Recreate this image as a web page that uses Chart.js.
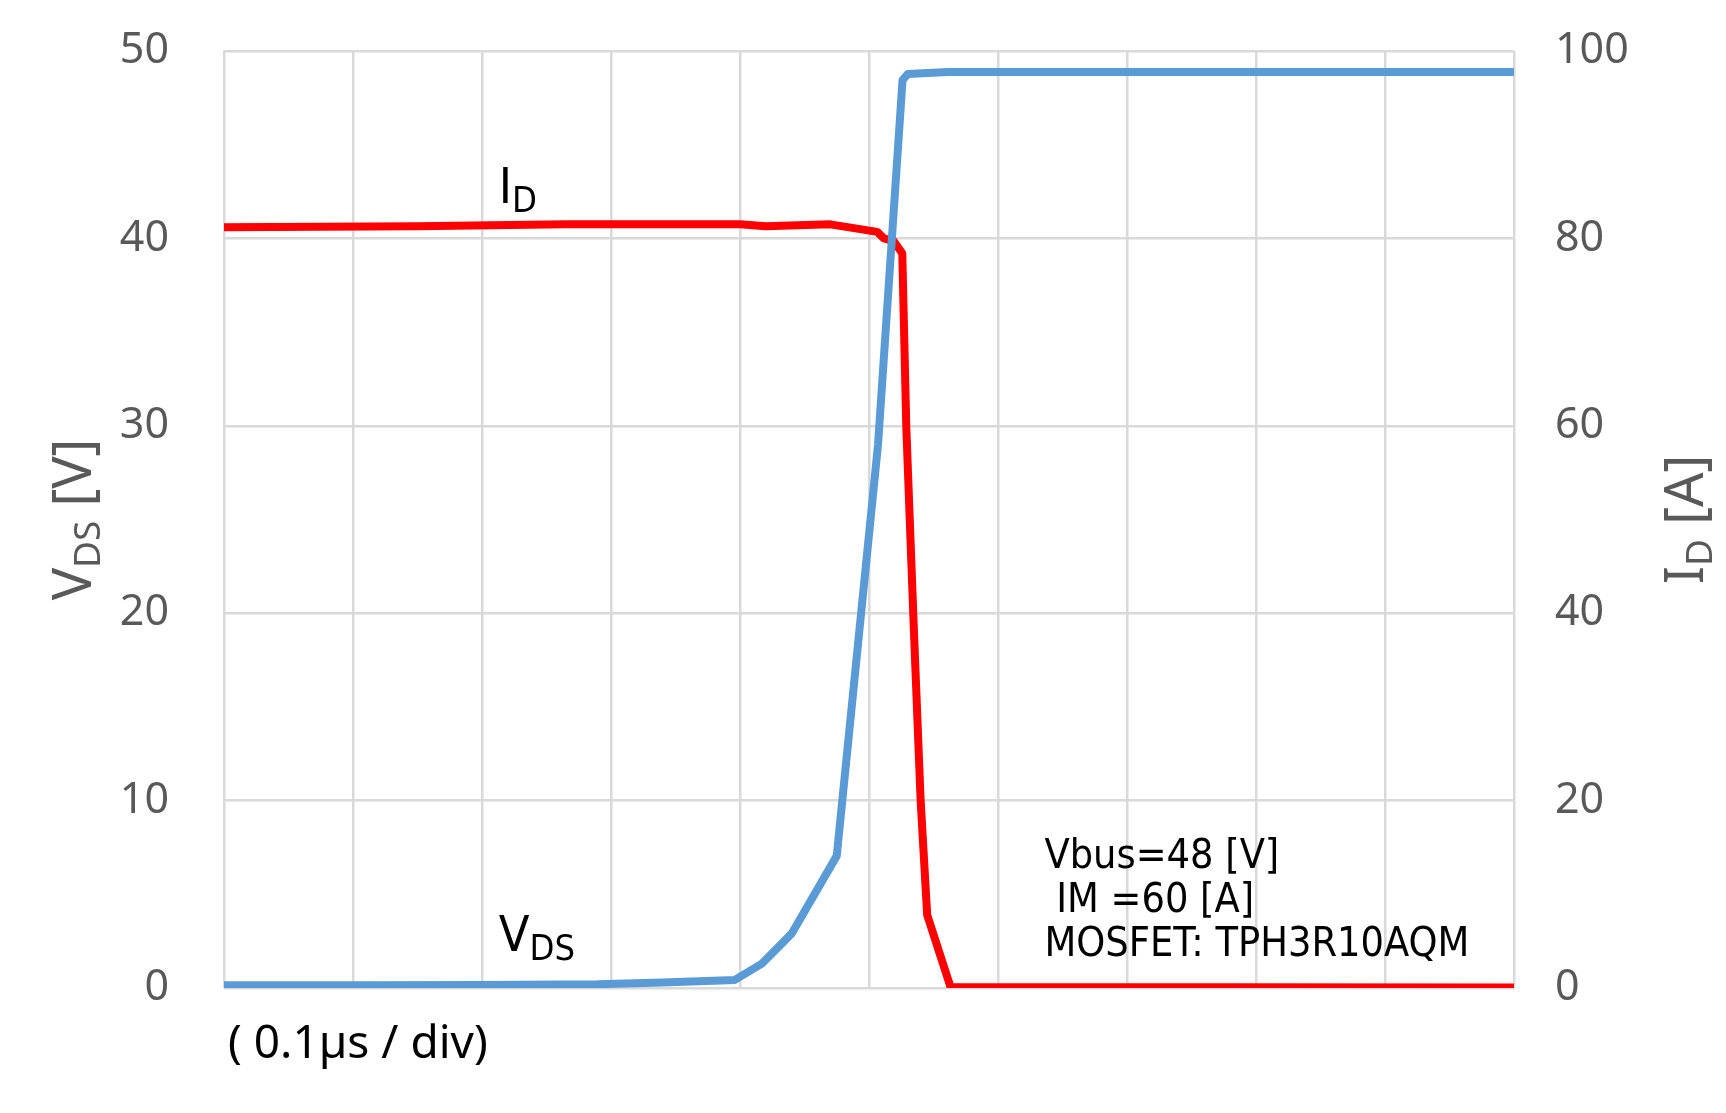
<!DOCTYPE html>
<html>
<head>
<meta charset="utf-8">
<script src="https://cdn.jsdelivr.net/npm/chart.js@4/dist/chart.umd.min.js"></script>
<style>
html,body{margin:0;padding:0;background:#fff;}
#c{display:block;}
</style>
</head>
<body>
<canvas id="c" width="1726" height="1113"></canvas>
<script>
// time in divisions (0.1us / div)
const vdsTime=[0,1,2,2.9,3.4,3.96,4.17,4.40,4.75,5.07,5.26,5.30,5.61,10];
const vdsVolts=[0.15,0.15,0.16,0.2,0.3,0.43,1.3,2.9,7.05,29.0,48.45,48.77,48.88,48.88];
const idTime=[0,1.5,2.65,4.0,4.2,4.7,5.064,5.115,5.192,5.258,5.289,5.348,5.40,5.451,5.632,10];
const idAmps=[81.2,81.3,81.5,81.5,81.3,81.5,80.7,80.0,79.7,78.4,59.9,38.2,20.1,7.8,0.1,0.05];
const leftTicks=[0,10,20,30,40,50];
const rightTicks=[0,20,40,60,80,100];
const infoLines=["Vbus=48 [V]"," IM =60 [A]","MOSFET: TPH3R10AQM"];

const FONT="'Noto Sans'";
const COND="'DejaVu Sans Condensed','DejaVu Sans'";
const GRAY="#595959";

function drawRich(ctx,parts,x,y,color){
  let cx=x;
  ctx.fillStyle=color;
  ctx.textBaseline="alphabetic";
  ctx.textAlign="left";
  parts.forEach(p=>{
    ctx.font=p.size+"px "+(p.family||FONT);
    ctx.fillText(p.t,cx,y+(p.dy||0));
    cx+=ctx.measureText(p.t).width;
  });
}
function richWidth(ctx,parts){
  let w=0;
  parts.forEach(p=>{ctx.font=p.size+"px "+(p.family||FONT);w+=ctx.measureText(p.t).width;});
  return w;
}
function drawRotated(ctx,parts,cx,cy,color){
  ctx.save();
  ctx.translate(cx,cy);
  ctx.rotate(-Math.PI/2);
  const w=richWidth(ctx,parts);
  drawRich(ctx,parts,-w/2,parts[0].size*0.36,color);
  ctx.restore();
}

const labelsPlugin={
  id:"labels",
  afterDraw(chart){
    const ctx=chart.ctx, a=chart.chartArea;
    const xs=chart.scales.x, ys=chart.scales.y;
    // axis titles
    drawRotated(ctx,[{t:"V",size:54},{t:"DS",size:37,dy:9},{t:" [V]",size:54}],a.left-152,(a.top+a.bottom)/2,GRAY);
    drawRotated(ctx,[{t:"I",size:54},{t:"D",size:37,dy:9},{t:" [A]",size:54}],a.right+170,(a.top+a.bottom)/2,GRAY);
    // curve labels
    drawRich(ctx,[{t:"I",size:50,family:COND},{t:"D",size:36,dy:9,family:COND}],xs.getPixelForValue(2.13),ys.getPixelForValue(41.9),"#000");
    drawRich(ctx,[{t:"V",size:50,family:COND},{t:"DS",size:36,dy:9,family:COND}],xs.getPixelForValue(2.13),ys.getPixelForValue(2.0),"#000");
    // conditions
    infoLines.forEach((s,i)=>{
      drawRich(ctx,[{t:s,size:41,family:COND}],xs.getPixelForValue(6.36),ys.getPixelForValue(6.4)+i*44,"#000");
    });
    drawRich(ctx,[{t:"( 0.1µs / div)",size:46}],a.left+4,a.bottom+70,"#000");
  }
};

function fixLeft(s){s.width=224;s.paddingTop=0;s.paddingBottom=0;}
function fixRight(s){s.width=212;s.paddingTop=0;s.paddingBottom=0;}

new Chart(document.getElementById("c"),{
  type:"line",
  data:{datasets:[
    {label:"VDS",data:vdsTime.map((t,i)=>({x:t,y:vdsVolts[i]})),yAxisID:"y",borderColor:"#5B9BD5",borderWidth:8,pointRadius:0,tension:0,borderJoinStyle:"round",order:0},
    {label:"ID",data:idTime.map((t,i)=>({x:t,y:idAmps[i]})),yAxisID:"y1",borderColor:"#FF0000",borderWidth:8,pointRadius:0,tension:0,borderJoinStyle:"round",order:1}
  ]},
  options:{
    responsive:false,
    animation:false,
    layout:{padding:{top:51,left:0,right:0,bottom:0}},
    plugins:{legend:{display:false},tooltip:{enabled:false}},
    scales:{
      x:{type:"linear",min:0,max:10,
        ticks:{display:false,stepSize:1},
        grid:{color:"#D9D9D9",lineWidth:2.5,drawTicks:false},
        border:{display:false},
        afterFit:s=>{s.height=125;s.paddingLeft=0;s.paddingRight=0;}
      },
      y:{position:"left",min:0,max:50,
        afterBuildTicks:s=>{s.ticks=leftTicks.map(v=>({value:v}));},
        ticks:{color:GRAY,font:{family:FONT,size:43},padding:55},
        grid:{color:"#D9D9D9",lineWidth:2.5,drawTicks:false},
        border:{display:false},
        afterFit:fixLeft
      },
      y1:{position:"right",min:0,max:100,
        afterBuildTicks:s=>{s.ticks=rightTicks.map(v=>({value:v}));},
        ticks:{color:GRAY,font:{family:FONT,size:43},padding:41},
        grid:{drawOnChartArea:false,drawTicks:false},
        border:{display:false},
        afterFit:fixRight
      }
    }
  },
  plugins:[labelsPlugin]
});
</script>
</body>
</html>
